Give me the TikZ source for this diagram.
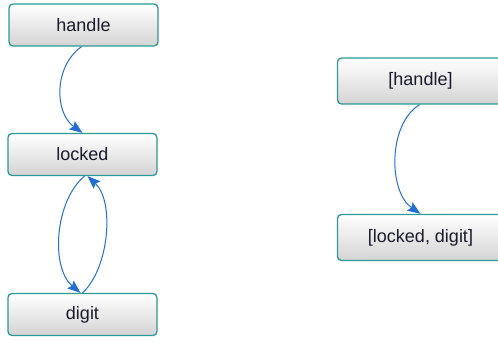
\documentclass[tikz,border=0pt]{standalone}
\usepackage{fontspec}
\setmainfont{Liberation Sans}
\usetikzlibrary{arrows.meta}
\definecolor{boxline}{HTML}{2A9A96}
\definecolor{edgeblue}{HTML}{1F6FD6}
\definecolor{labeltext}{HTML}{1A1A28}
\begin{document}
\begin{tikzpicture}[x=1pt,y=-1pt,
  state/.style={draw=boxline, line width=1.3pt, rounded corners=4pt,
    top color=white, bottom color=black!17, minimum height=42pt,
    minimum width=149pt, inner sep=0pt, text=labeltext,
    font=\fontsize{18}{21}\selectfont},
  wide/.style={minimum width=166pt, minimum height=46pt},
  trans/.style={draw=edgeblue, line width=1pt,
    -{Stealth[length=13pt,width=10pt,inset=2pt]}}]
  \useasboundingbox (0,0) rectangle (498,342);
  \clip (0,0) rectangle (498,342);
  % per-variable graph
  \node[state] (h) at (83.5,25) {handle};
  \node[state] (l) at (82.5,154.5) {locked};
  \node[state] (d) at (82.5,314.5) {digit};
  % merged graph
  \node[state,wide] (H) at (420.5,81) {[handle]};
  \node[state,wide] (LD) at (420.5,237.5) {[locked, digit]};
  % transitions
  \draw[trans] ([xshift=-2pt]h.south) .. controls +(-28,20) and +(-28,-20) .. (l.north);
  \draw[trans] ([xshift=2pt]l.south) .. controls +(-30,25) and +(-30,-25) .. ([xshift=-2pt]d.north);
  \draw[trans] (d.north) .. controls +(27,-25) and +(27,25) .. ([xshift=5pt]l.south);
  \draw[trans] ([xshift=-1pt]H.south) .. controls +(-32,20) and +(-32,-22) .. (LD.north);
\end{tikzpicture}
\end{document}
